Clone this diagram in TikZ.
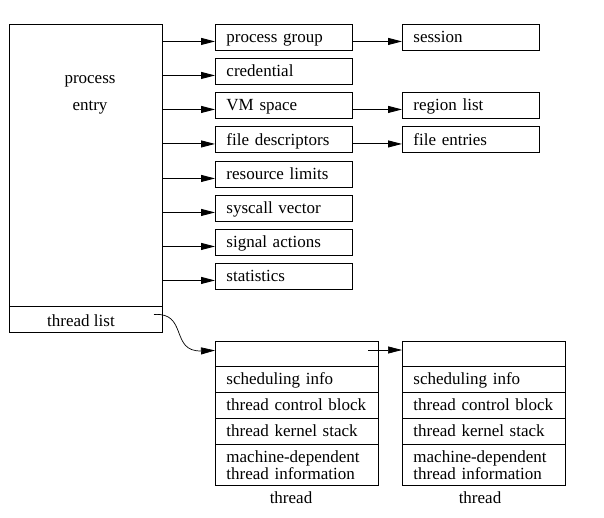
\documentclass[tikz,border=0pt]{standalone}
\usepackage{fontspec}
\setmainfont{Liberation Serif}
\usetikzlibrary{arrows.meta,calc}
\begin{document}
\begin{tikzpicture}[x=1pt,y=-1pt,
  every node/.style={font=\fontsize{17}{17}\selectfont},
  line width=0.9pt,
  arr/.style={-{Triangle[length=14pt,width=7pt]}},
  fbox/.style={draw, anchor=north west, minimum height=26pt, text width=115pt, inner xsep=11pt, inner ysep=0pt, align=left, text height=12.5pt, text depth=1.5pt},
  trow/.style={draw, anchor=north west, text width=141pt, inner xsep=11pt, inner ysep=0pt, align=left},
  onerow/.style={trow, minimum height=26pt, text height=12pt, text depth=2pt},
  plain/.style={inner sep=0pt}]
\useasboundingbox (0,0) rectangle (604,518);
% process entry
\node[draw, anchor=north west, minimum width=153pt, minimum height=308pt, inner sep=0pt] (pe) at (9,24) {};
\node[draw, anchor=north west, minimum width=153pt, minimum height=26pt, inner sep=0pt] (tl) at (9,306) {};
\node[plain, align=center, font=\fontsize{17}{27}\selectfont] (pet) at (90,95) {process\\entry};
\node[plain] (tlt) at (81,321) {thread list};
% right boxes
\node[fbox] (pg) at (215,24) {process group};
\node[fbox] (cr) at (215,58) {credential};
\node[fbox] (vm) at (215,92) {VM space};
\node[fbox] (fd) at (215,126.5) {file descriptors};
\node[fbox] (rl) at (215,161) {resource limits};
\node[fbox] (sv) at (215,195) {syscall vector};
\node[fbox] (sa) at (215,229) {signal actions};
\node[fbox] (st) at (215,263) {statistics};
\node[fbox] (se) at (402,24) {session};
\node[fbox] (rg) at (402,92) {region list};
\node[fbox] (fe) at (402,126.5) {file entries};
% arrows from process entry
\foreach \b in {pg,cr,vm,fd,rl,sv,sa,st}{
  \draw[arr] (pe.east |- {$(\b.west)+(0,4)$}) -- ($(\b.west)+(0,4)$);
}
\draw[arr] (pg.east |- {$(se.west)+(0,4)$}) -- ($(se.west)+(0,4)$);
\draw[arr] (vm.east |- {$(rg.west)+(0,4)$}) -- ($(rg.west)+(0,4)$);
\draw[arr] (fd.east |- {$(fe.west)+(0,4)$}) -- ($(fe.west)+(0,4)$);
% thread 1
\node[trow, minimum height=25pt] (a0) at (215,341) {};
\node[onerow] (a1) at (215,366) {scheduling info};
\node[onerow] (a2) at (215,392) {thread control block};
\node[onerow] (a3) at (215,418) {thread kernel stack};
\node[trow, minimum height=41pt] (a4) at (215,444) {machine-dependent\\thread information};
\node[plain] (la) at (291,498) {thread};
% thread 2
\node[trow, minimum height=25pt] (b0) at (402,341) {};
\node[onerow] (b1) at (402,366) {scheduling info};
\node[onerow] (b2) at (402,392) {thread control block};
\node[onerow] (b3) at (402,418) {thread kernel stack};
\node[trow, minimum height=41pt] (b4) at (402,444) {machine-dependent\\thread information};
\node[plain] (lb) at (480,498) {thread};
% links
\coordinate (tls) at (154,314.5);
\coordinate (a0p) at (368,350);
\draw[arr, line width=0.7pt] (tls) .. controls (188,312) and (170,352) .. ($(a0.west)+(0,-3.5)$);
\draw[arr, line width=0.7pt] (a0p) -- (a0p -| b0.west);
\end{tikzpicture}
\end{document}
